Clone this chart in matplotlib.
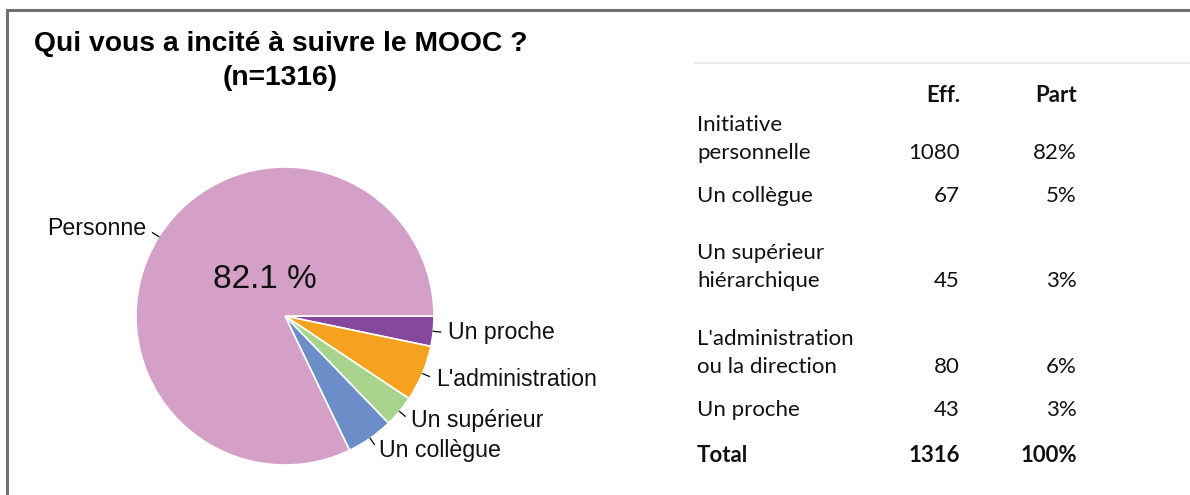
import matplotlib.pyplot as plt
from matplotlib.lines import Line2D
import numpy as np

# pie data (clockwise from 3 o'clock)
pie_labels = ["Un proche", "L'administration", "Un supérieur", "Un collègue", "Personne"]
pie_values = [43, 80, 45, 67, 1080]
pie_colors = ["#84489c", "#f7a21e", "#a8d38c", "#6b8ec8", "#d4a0c8"]
n_total = 1316

# table data
table_rows = ["Initiative\npersonnelle", "Un collègue", "Un supérieur\nhiérarchique",
              "L'administration\nou la direction", "Un proche"]
table_eff = [1080, 67, 45, 80, 43]

W, H = 1190, 495
fig = plt.figure(figsize=(W / 100, H / 100), dpi=100)
fig.patch.set_facecolor("white")

def fx(px):
    return px / W

def fy(py):
    return 1 - py / H

# frame lines (left + top)
fig.add_artist(Line2D([fx(7), fx(7)], [fy(10), 0], color="#707070", lw=2.2))
fig.add_artist(Line2D([fx(7), 1], [fy(10), fy(10)], color="#707070", lw=2.2))

# title
fig.text(fx(281), fy(44), "Qui vous a incité à suivre le MOOC ?", ha="center", va="center",
         fontsize=20.3, fontweight="bold", family="Liberation Sans")
fig.text(fx(280), fy(78), "(n=%d)" % n_total, ha="center", va="center",
         fontsize=20.3, fontweight="bold", family="Liberation Sans")

# pie axes, 1 unit = R px
R = 149.0
cx, cy = 285, 316
left, right, top, bottom = 20, 640, 110, 490
ax = fig.add_axes([fx(left), fy(bottom), (right - left) / W, (bottom - top) / H])
wedges, _ = ax.pie(pie_values, colors=pie_colors, startangle=0, counterclock=False,
                   wedgeprops=dict(edgecolor="white", linewidth=1.2))
ax.set_aspect("auto")
ax.set_xlim(-(cx - left) / R, (right - cx) / R)
ax.set_ylim(-(bottom - cy) / R, (cy - top) / R)
ax.axis("off")

for w, lab in zip(wedges, pie_labels):
    a = np.deg2rad((w.theta1 + w.theta2) / 2)
    c, s = np.cos(a), np.sin(a)
    ax.plot([c * 1.0, c * 1.05], [s * 1.0, s * 1.05], color="black", lw=0.9)
    ax.text(c * 1.1, s * 1.1, lab, ha="left" if c > 0 else "right", va="center",
            fontsize=16.7, family="Liberation Sans", color="#111111")

ax.text(-0.135, 0.245, "%.1f %%" % (100 * pie_values[-1] / n_total), ha="center", va="center",
        fontsize=24, family="Liberation Sans", color="#111111")

# table
fig.add_artist(Line2D([fx(695), 1], [fy(63), fy(63)], color="#e6e6e6", lw=1.2))
tfont = dict(family="Lato", fontsize=16, color="#111111")
x_lab, x_eff, x_part = 697, 960, 1077
fig.text(fx(x_eff), fy(95), "Eff.", ha="right", va="center", fontweight="bold", **tfont)
fig.text(fx(x_part), fy(95), "Part", ha="right", va="center", fontweight="bold", **tfont)

row_y = [153, 196, 281, 367, 410]
line_h = 28
for lab, v, y in zip(table_rows, table_eff, row_y):
    lines = lab.split("\n")
    for i, ln in enumerate(lines):
        fig.text(fx(x_lab), fy(y - (len(lines) - 1 - i) * line_h), ln, ha="left", va="center", **tfont)
    fig.text(fx(x_eff), fy(y), str(v), ha="right", va="center", **tfont)
    fig.text(fx(x_part), fy(y), "%d%%" % round(100 * v / n_total), ha="right", va="center", **tfont)

fig.text(fx(x_lab), fy(455), "Total", ha="left", va="center", fontweight="bold", **tfont)
fig.text(fx(x_eff), fy(455), str(n_total), ha="right", va="center", fontweight="bold", **tfont)
fig.text(fx(x_part), fy(455), "100%", ha="right", va="center", fontweight="bold", **tfont)

fig.savefig("out.png", dpi=100)
